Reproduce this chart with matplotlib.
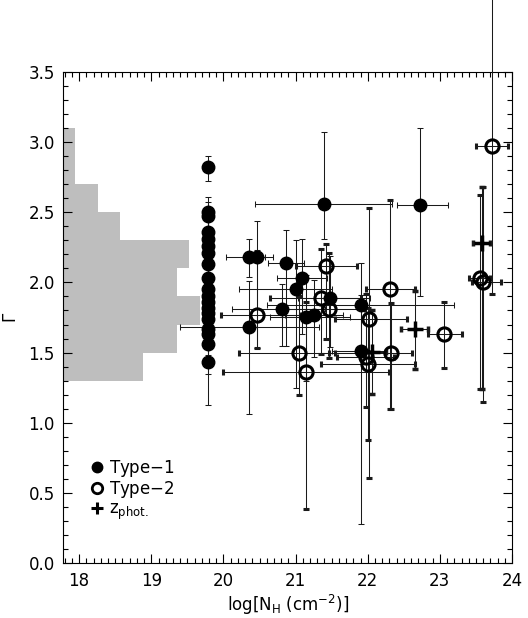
import numpy as np
import matplotlib as mpl
mpl.use("Agg")
import matplotlib.pyplot as plt
from matplotlib.lines import Line2D

mpl.rcParams['font.family'] = ['DejaVu Sans']
mpl.rcParams['mathtext.default'] = 'regular'

# histogram of Gamma (bins of 0.2 from 1.3 to 3.1)
hist_edges = [1.3, 1.5, 1.7, 1.9, 2.1, 2.3, 2.5, 2.7, 2.9, 3.1]
hist_counts = [7, 10, 12, 10, 11, 5, 3, 1, 1]

# type-1 with NH fixed at the galactic value
col_nh = 19.79
col_gam = [2.82, 2.50, 2.47, 2.36, 2.31, 2.26, 2.21, 2.13, 2.03, 1.95,
           1.90, 1.86, 1.82, 1.78, 1.74, 1.67, 1.63, 1.56, 1.43]
col_gam_lo = [0.10, 0.15, 0.20, 0.15, 0.15, 0.12, 0.15, 0.15, 0.12, 0.15,
              0.12, 0.15, 0.12, 0.12, 0.15, 0.12, 0.15, 0.43, 0.08]
col_gam_hi = [0.08, 0.11, 0.10, 0.15, 0.15, 0.12, 0.15, 0.15, 0.12, 0.15,
              0.12, 0.15, 0.12, 0.12, 0.15, 0.12, 0.15, 0.12, 0.10]

# type-1
t1_nh = [21.40, 22.73, 20.36, 20.47, 20.87, 21.09, 21.01, 20.81, 21.15, 21.26, 21.48, 20.36, 21.90, 21.91]
t1_gam = [2.56, 2.55, 2.18, 2.18, 2.14, 2.03, 1.95, 1.81, 1.75, 1.77, 1.89, 1.68, 1.84, 1.51]
t1_nh_lo = [0.96, 0.32, 0.32, 0.10, 0.25, 0.35, 0.80, 0.69, 0.50, 0.40, 0.45, 0.96, 1.30, 0.40]
t1_nh_hi = [0.93, 0.38, 0.33, 0.10, 0.25, 0.35, 0.50, 0.60, 0.60, 0.40, 0.55, 0.96, 1.30, 0.35]
t1_gam_lo = [0.25, 0.65, 0.14, 0.65, 0.59, 0.40, 0.70, 0.26, 0.45, 0.30, 0.35, 0.615, 0.35, 1.23]
t1_gam_hi = [0.51, 0.55, 0.13, 0.26, 0.23, 0.28, 0.35, 0.18, 0.30, 0.25, 0.30, 0.33, 0.30, 0.40]

# type-2
t2_nh = [23.72, 21.42, 22.31, 21.35, 21.46, 20.46, 22.02, 23.06, 21.05, 22.32, 21.97, 22.00, 21.15, 23.55, 23.60]
t2_gam = [2.97, 2.12, 1.95, 1.89, 1.81, 1.77, 1.74, 1.63, 1.50, 1.50, 1.47, 1.42, 1.36, 2.03, 2.00]
t2_nh_lo = [0.22, 0.42, 0.34, 0.70, 0.60, 0.50, 0.48, 0.23, 0.84, 0.85, 0.40, 0.65, 1.16, 0.15, 0.15]
t2_nh_hi = [0.22, 0.43, 0.35, 0.55, 0.50, 0.60, 0.52, 0.24, 0.50, 0.30, 0.40, 0.65, 1.15, 0.15, 0.25]
t2_gam_lo = [1.05, 0.52, 0.85, 0.40, 0.35, 0.24, 1.13, 0.24, 0.30, 0.40, 0.36, 0.54, 0.97, 0.79, 0.85]
t2_gam_hi = [1.06, 0.15, 0.64, 0.35, 0.40, 0.45, 0.79, 0.23, 0.40, 0.35, 0.45, 0.40, 0.50, 0.59, 0.68]

# photometric redshifts
zp_nh = [23.58, 22.65, 22.06]
zp_gam = [2.28, 1.67, 1.505]
zp_nh_lo = [0.12, 0.19, 0.20]
zp_nh_hi = [0.12, 0.18, 0.20]
zp_gam_lo = [1.04, 0.29, 0.30]
zp_gam_hi = [0.40, 0.27, 0.30]

xmin, xmax = 17.78, 24.0
hist_scale = 0.158  # x units per count

fig = plt.figure(figsize=(5.28, 6.18), dpi=100)
ax = fig.add_axes([0.1199, 0.0885, 0.8498, 0.7955])

edges = np.array(hist_edges)
ax.barh((edges[:-1] + edges[1:]) / 2, np.array(hist_counts) * hist_scale,
        height=0.2, left=xmin, color='#bebebe', edgecolor='none', zorder=1)

eb = dict(ecolor='#1a1a1a', elinewidth=0.75, capsize=2.5, capthick=0.75, clip_on=False, zorder=3)

ax.errorbar([col_nh] * len(col_gam), col_gam, yerr=[col_gam_lo, col_gam_hi],
            fmt='o', ms=9, mfc='black', mec='black', **eb)
ax.errorbar(t1_nh, t1_gam, xerr=[t1_nh_lo, t1_nh_hi], yerr=[t1_gam_lo, t1_gam_hi],
            fmt='o', ms=9, mfc='black', mec='black', **eb)
ax.errorbar(t2_nh, t2_gam, xerr=[t2_nh_lo, t2_nh_hi], yerr=[t2_gam_lo, t2_gam_hi],
            fmt='o', ms=9.5, mfc='none', mec='black', mew=2.2, **eb)
ax.errorbar(zp_nh, zp_gam, xerr=[zp_nh_lo, zp_nh_hi], yerr=[zp_gam_lo, zp_gam_hi],
            fmt='+', ms=11, mec='black', mew=2.5, **eb)

ax.set_xlim(xmin, xmax)
ax.set_ylim(0.0, 3.5)
ax.set_xticks(np.arange(18, 25, 1))
ax.set_xticks(np.arange(17.8, 24.01, 0.1), minor=True)
ax.set_yticks(np.arange(0, 3.51, 0.5))
ax.set_yticks(np.arange(0, 3.51, 0.1), minor=True)
ax.set_yticklabels(['%.1f' % v for v in np.arange(0, 3.51, 0.5)])
ax.tick_params(which='both', direction='in', top=True, right=True, labelsize=12, width=0.8)
ax.tick_params(which='major', length=6.5, pad=6)
ax.tick_params(which='minor', length=3.5)
for s in ax.spines.values():
    s.set_linewidth(0.8)

ax.set_xlabel(r'log[N$_{\rm H}$ (cm$^{-2}$)]', fontsize=12, labelpad=2)
ax.set_ylabel(r'$\Gamma$', fontsize=12, labelpad=6)

handles = [Line2D([], [], ls='none', marker='o', ms=7.5, mfc='black', mec='black'),
           Line2D([], [], ls='none', marker='o', ms=7.5, mfc='none', mec='black', mew=2),
           Line2D([], [], ls='none', marker='+', ms=8, mec='black', mew=2.2)]
ax.legend(handles, ['Type$-$1', 'Type$-$2', r'z$_{\rm phot.}$'], loc='lower left',
          bbox_to_anchor=(0.05, 0.07), frameon=False, fontsize=12,
          handlelength=0.6, handletextpad=0.4, labelspacing=0.02, borderaxespad=0)

fig.savefig('out.png', dpi=100)
